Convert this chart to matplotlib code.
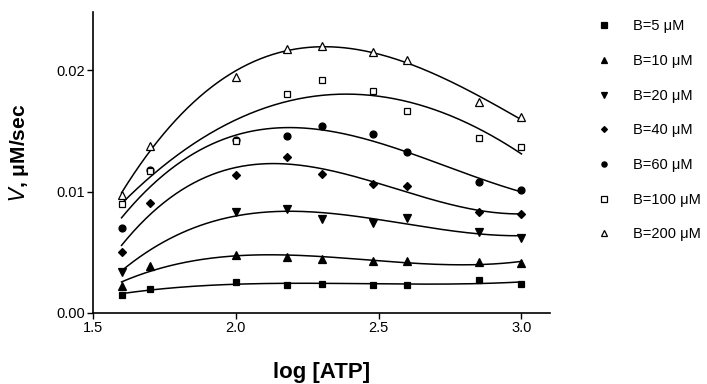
import numpy as np
import matplotlib
matplotlib.use("Agg")
import matplotlib.pyplot as plt

plt.rcParams['font.family'] = ['Liberation Sans', 'DejaVu Sans']

# log10 of ATP concentration (40, 50, 100, 150, 200, 300, 400, 700, 1000 uM)
log_atp = [1.6, 1.7, 2.0, 2.18, 2.3, 2.48, 2.6, 2.85, 3.0]

v_b5 = [0.00151, 0.00195, 0.00255, 0.00230, 0.00241, 0.00233, 0.00233, 0.00272, 0.00239]
v_b10 = [0.00222, 0.00389, 0.00475, 0.00464, 0.00447, 0.00430, 0.00425, 0.00420, 0.00409]
v_b20 = [0.00340, np.nan, 0.00829, 0.00856, 0.00771, 0.00743, 0.00779, 0.00669, 0.00620]
v_b40 = [0.00500, 0.00903, 0.01136, 0.01284, 0.01141, 0.01064, 0.01045, 0.00829, 0.00817]
v_b60 = [0.00697, 0.01177, 0.01421, 0.01454, 0.01536, 0.01473, 0.01328, 0.01075, 0.01010]
v_b100 = [0.00897, 0.01169, 0.01416, 0.01800, 0.01923, 0.01830, 0.01663, 0.01443, 0.01366]
v_b200 = [0.00971, 0.01374, 0.01945, 0.02178, 0.02203, 0.02151, 0.02080, 0.01739, 0.01616]

labels = ['B=5 μM', 'B=10 μM', 'B=20 μM', 'B=40 μM', 'B=60 μM', 'B=100 μM', 'B=200 μM']
series = [v_b5, v_b10, v_b20, v_b40, v_b60, v_b100, v_b200]
markers = ['s', '^', 'v', 'D', 'o', 's', '^']
filled = [True, True, True, True, True, False, False]
msizes = [5, 5.5, 5.5, 4, 5, 5, 5.5]

fig = plt.figure(figsize=(7.07, 3.84), dpi=100)
ax = fig.add_axes([0.1315, 0.185, 0.778 - 0.1315, 0.969 - 0.185])

x = np.array(log_atp)
xs = np.linspace(x.min(), x.max(), 200)
handles = []
for vals, lab, m, f, ms in zip(series, labels, markers, filled, msizes):
    y = np.array(vals)
    ok = ~np.isnan(y)
    # smooth fitted curve through the measured points
    coef = np.polyfit(x[ok], y[ok], 3)
    ax.plot(xs, np.polyval(coef, xs), color='black', lw=1.1, zorder=2)
    h, = ax.plot(x, y, linestyle='none', marker=m, markersize=ms,
                 markerfacecolor='black' if f else 'white',
                 markeredgecolor='black', markeredgewidth=0.9, zorder=3,
                 label=lab)
    handles.append(h)

ax.set_xlim(1.5, 3.1)
ax.set_ylim(0, 0.0248)
ax.set_xticks([1.5, 2.0, 2.5, 3.0])
ax.set_xticklabels(['1.5', '2.0', '2.5', '3.0'])
ax.set_yticks([0.0, 0.01, 0.02])
ax.set_yticklabels(['0.00', '0.01', '0.02'])
ax.tick_params(direction='out', length=4, width=1, labelsize=10.5, pad=2)
for s in ['top', 'right']:
    ax.spines[s].set_visible(False)
for s in ['left', 'bottom']:
    ax.spines[s].set_linewidth(1.2)

ax.set_xlabel('log [ATP]', fontsize=16, fontweight='bold', labelpad=19)
ax.set_ylabel(r'$\bf{\it{V}}$, μM/sec', fontsize=15, fontweight='bold', labelpad=8)
ax.yaxis.set_label_coords(-0.135, 0.53)

leg = ax.legend(handles=handles, loc='upper left', bbox_to_anchor=(1.09, 0.995),
                frameon=False, fontsize=10.5, handlelength=1.0, handletextpad=1.45,
                labelspacing=1.42, markerscale=0.75, borderaxespad=0)

fig.savefig('out.png', dpi=100)
